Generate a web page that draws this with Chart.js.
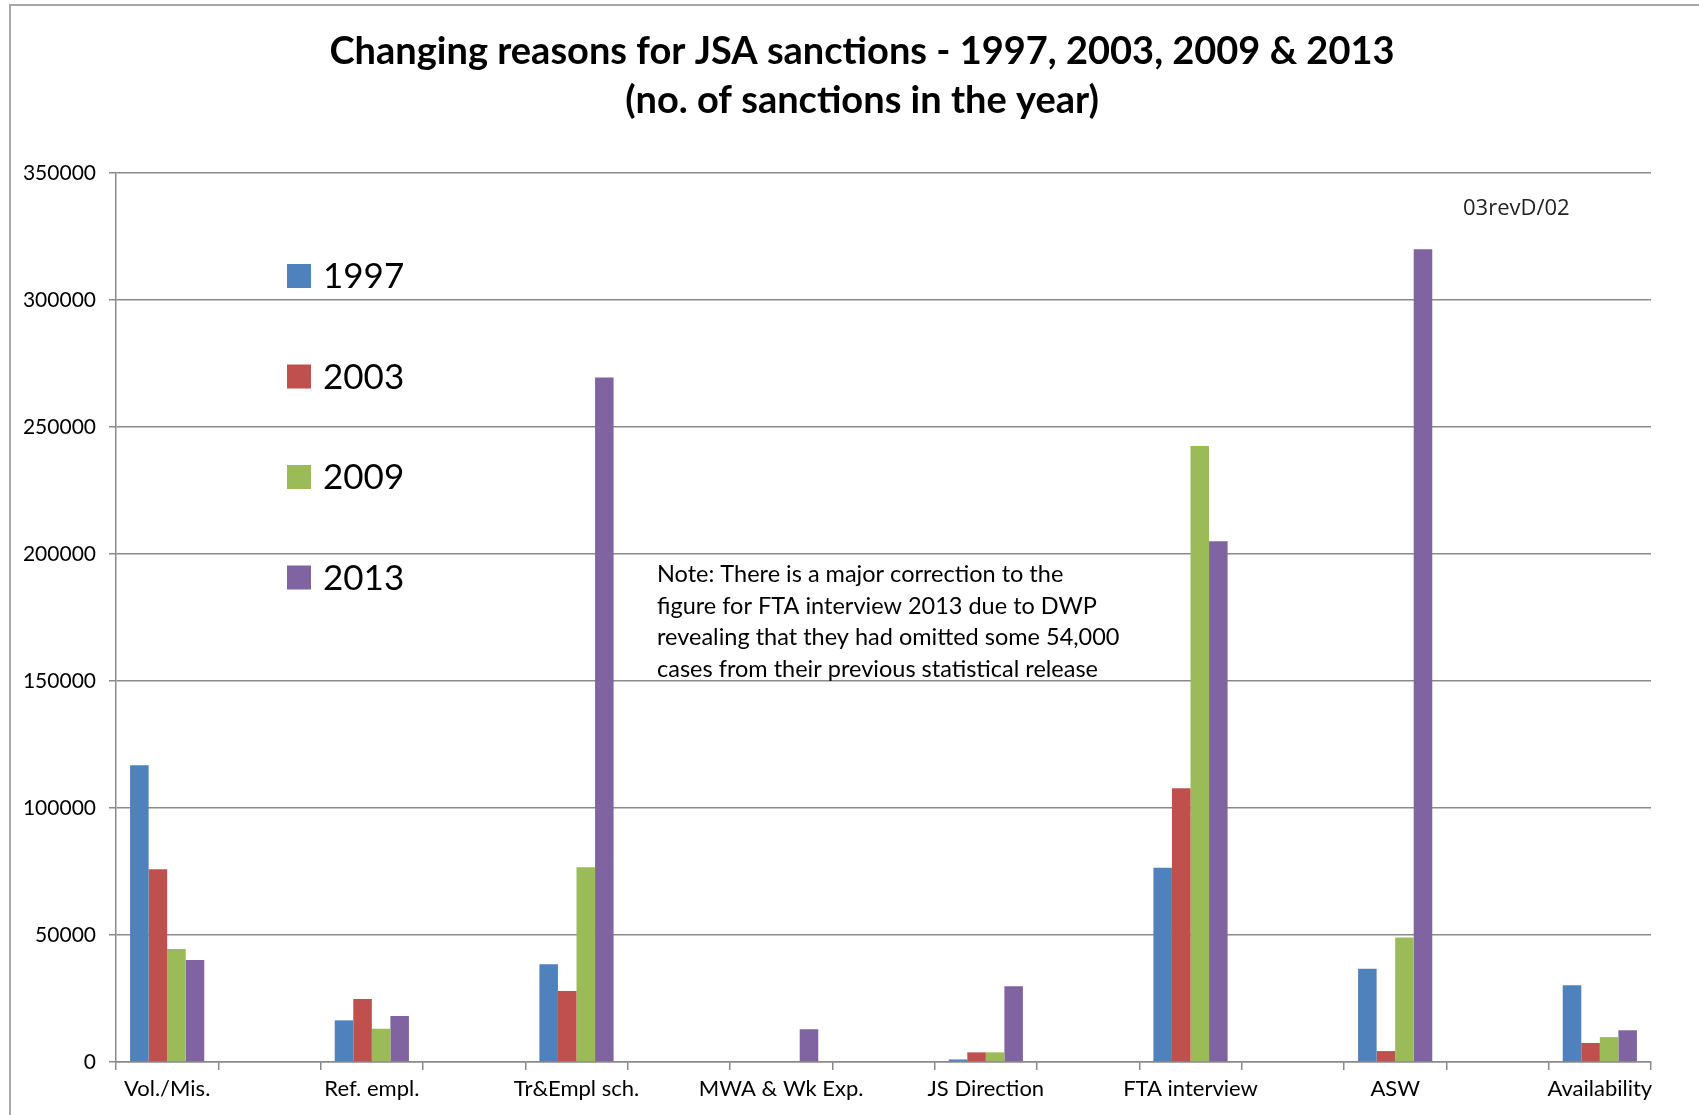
<!DOCTYPE html>
<html>
<head>
<meta charset="utf-8">
<title>Changing reasons for JSA sanctions</title>
<script src="https://cdn.jsdelivr.net/npm/chart.js@4.4.1/dist/chart.umd.min.js"></script>
<style>
    html, body { margin: 0; padding: 0; background: #fff; }
    canvas { display: block; }
</style>
</head>
<body>
<canvas id="sanctionsChart" width="1699" height="1115"></canvas>
<script>
// Values
const categories = ['Vol./Mis.', 'Ref. empl.', 'Tr&Empl sch.', 'MWA & Wk Exp.', 'JS Direction', 'FTA interview', 'ASW', 'Availability'];
const years = ['1997', '2003', '2009', '2013'];
const sanctions1997 = [116800, 16400, 38500, 0, 1000, 76500, 36700, 30200];
const sanctions2003 = [75900, 24800, 28000, 0, 3800, 107800, 4300, 7500];
const sanctions2009 = [44500, 13100, 76700, 0, 3800, 242500, 49000, 9800];
const sanctions2013 = [40200, 18100, 269500, 12900, 29800, 205000, 320000, 12500];
const yearColours = ['#4f81bd', '#c0504d', '#9bbb59', '#8064a2'];
const yMax = 350000;
const yStep = 50000;

const titleLines = ['Changing reasons for JSA sanctions - 1997, 2003, 2009 & 2013', '(no. of sanctions in the year)'];
const noteLines = [
    'Note: There is a major correction to the',
    'figure for FTA interview 2013 due to DWP',
    'revealing that they had omitted some 54,000',
    'cases from their previous statistical release',
];
const sheetRef = '03revD/02';

const gridColour = '#8a8a8a';

// The source sheet leaves an empty row between each reason, so every
// reason is followed by a blank category slot
const spread = (list, filler) => {
    const out = [];
    list.forEach((item, i) => {
        out.push(item);
        if (i < list.length - 1) {
            out.push(filler);
        }
    });
    return out;
};

const seriesValues = [sanctions1997, sanctions2003, sanctions2009, sanctions2013];

const datasets = years.map((year, i) => ({
    label: year,
    data: spread(seriesValues[i], null),
    backgroundColor: yearColours[i],
    borderWidth: 0,
    categoryPercentage: 0.725,
    barPercentage: 1,
}));

// Title, legend, note and frame drawn on top of the chart
const annotations = {
    id: 'annotations',
    afterDraw(chart) {
        const ctx = chart.ctx;
        ctx.save();

        ctx.strokeStyle = '#a8a8a8';
        ctx.lineWidth = 2;
        ctx.beginPath();
        ctx.moveTo(10, chart.height);
        ctx.lineTo(10, 5);
        ctx.lineTo(chart.width, 5);
        ctx.stroke();

        ctx.fillStyle = '#000';
        ctx.textAlign = 'center';
        ctx.textBaseline = 'alphabetic';
        ctx.font = 'bold 38px Lato';
        ctx.fillText(titleLines[0], 862, 64);
        ctx.fillText(titleLines[1], 862, 113);

        ctx.textAlign = 'left';
        ctx.textBaseline = 'middle';
        ctx.font = '35px Lato';
        chart.data.datasets.forEach((ds, i) => {
            const cy = 276 + i * 100.5;
            ctx.fillStyle = ds.backgroundColor;
            ctx.fillRect(287, cy - 12, 24, 24);
            ctx.fillStyle = '#000';
            ctx.fillText(ds.label, 323, cy + 1);
        });

        ctx.textBaseline = 'alphabetic';
        ctx.font = '23.5px Lato';
        ctx.fillStyle = '#000';
        noteLines.forEach((line, i) => {
            ctx.fillText(line, 657, 582 + i * 31.7);
        });

        ctx.font = '22px "Open Sans"';
        ctx.fillStyle = '#222';
        ctx.fillText(sheetRef, 1463, 215);

        ctx.restore();
    },
};

const drawChart = () => {
    new Chart(document.getElementById('sanctionsChart'), {
        type: 'bar',
        data: {
            labels: spread(categories, ''),
            datasets: datasets,
        },
        options: {
            responsive: false,
            animation: false,
            devicePixelRatio: 1,
            layout: {
                padding: { left: 10, right: 48, top: 173, bottom: 0 },
            },
            plugins: {
                legend: { display: false },
                tooltip: { enabled: false },
                title: { display: false },
            },
            scales: {
                x: {
                    afterFit: (scale) => { scale.height = 53; },
                    grid: {
                        display: true,
                        offset: true,
                        drawOnChartArea: false,
                        drawTicks: true,
                        tickLength: 8,
                        color: gridColour,
                        lineWidth: 1.5,
                    },
                    border: { display: true, color: gridColour, width: 1.5 },
                    ticks: {
                        autoSkip: false,
                        maxRotation: 0,
                        minRotation: 0,
                        padding: 6,
                        color: '#000',
                        font: { family: 'Lato', size: 22 },
                    },
                },
                y: {
                    min: 0,
                    max: yMax,
                    afterFit: (scale) => { scale.width = 106; },
                    grid: {
                        color: gridColour,
                        lineWidth: 1.5,
                        tickLength: 7,
                    },
                    border: { display: true, color: gridColour, width: 1.5 },
                    ticks: {
                        stepSize: yStep,
                        padding: 13,
                        color: '#000',
                        font: { family: 'Lato', size: 21 },
                        callback: (value) => String(value),
                    },
                },
            },
        },
        plugins: [annotations],
    });
};

Promise.all([
    document.fonts.load('bold 38px Lato'),
    document.fonts.load('22px Lato'),
    document.fonts.load('22px "Open Sans"'),
]).then(drawChart, drawChart);
</script>
</body>
</html>
